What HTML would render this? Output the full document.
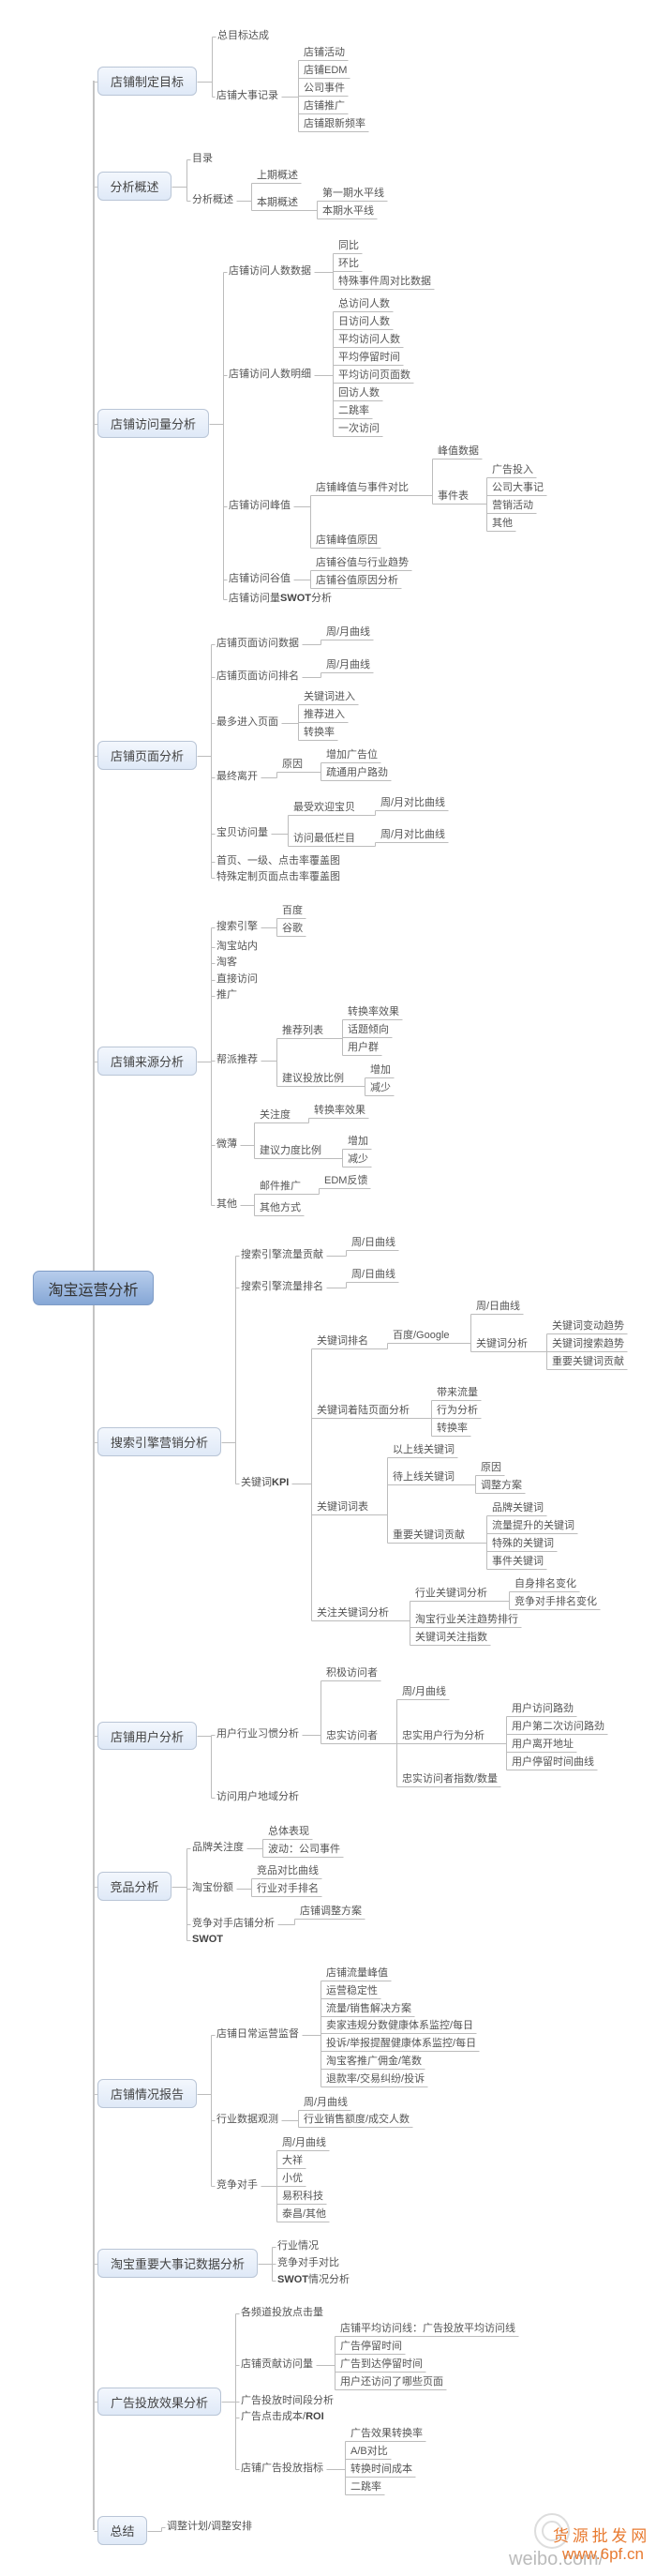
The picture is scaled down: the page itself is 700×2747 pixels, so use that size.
<!DOCTYPE html>
<html><head><meta charset="utf-8">
<style>
html,body{margin:0;padding:0;background:#fff;}
#c{position:relative;width:700px;height:2747px;overflow:hidden;font-family:"Liberation Sans","Noto Sans CJK SC",sans-serif;}
svg{position:absolute;left:0;top:0;}
.t{position:absolute;white-space:nowrap;font-size:11px;line-height:13px;color:#555;}
.t b{font-weight:bold;color:#444;}
.box{position:absolute;box-sizing:border-box;border:1px solid #b9c5d6;border-radius:6px;background:linear-gradient(#f3f7fd,#dfe9f7);color:#444;font-size:13px;display:flex;align-items:center;justify-content:center;font-family:"Liberation Sans","Noto Sans CJK SC",sans-serif;}
.root{border:1px solid #7f9cc6;background:linear-gradient(#b7cdec,#86a7d6);color:#333;font-size:16px;border-radius:7px;}
</style></head><body>
<div id="c"><svg id="s" width="700" height="2747"></svg></div>
<script>
function T(t,x,y,k){return {t:t,x:x,y:y,u:0,k:k||[]};}
function U(t,x,y,k){return {t:t,x:x,y:y,u:1,k:k||[]};}
function L(x,list){return list.map(function(a){return U(a[0],x,a[1],a[2]||[]);});}
function B(t,x1,y1,x2,y2,k,r){return {t:t,x1:x1,y1:y1,x2:x2,y2:y2,k:k,r:r};}

var boxes=[
B("店铺制定目标",104,71,210,102,[
  T("总目标达成",232,39),
  T("店铺大事记录",231,103,L(324,[["店铺活动",64],["店铺EDM",83],["公司事件",102],["店铺推广",121],["店铺跟新频率",140]]))]),
B("分析概述",104,183,183,214,[
  T("目录",205,170),
  T("分析概述",205,214,[U("上期概述",274,195),U("本期概述",274,224,L(344,[["第一期水平线",214],["本期水平线",233]]))])]),
B("店铺访问量分析",104,436,223,467,[
  T("店铺访问人数数据",244,290,L(361,[["同比",270],["环比",289],["特殊事件周对比数据",308]])),
  T("店铺访问人数明细",244,400,L(361,[["总访问人数",332],["日访问人数",351],["平均访问人数",370],["平均停留时间",389],["平均访问页面数",408],["回访人数",427],["二跳率",446],["一次访问",465]])),
  T("店铺访问峰值",244,540,[U("店铺峰值与事件对比",337,528,[U("峰值数据",467,489),U("事件表",467,537,L(525,[["广告投入",509],["公司大事记",528],["营销活动",547],["其他",566]]))]),U("店铺峰值原因",337,584)]),
  T("店铺访问谷值",244,618,L(337,[["店铺谷值与行业趋势",608],["店铺谷值原因分析",627]])),
  T("店铺访问量<b>SWOT</b>分析",244,639)]),
B("店铺页面分析",104,790,210,821,[
  T("店铺页面访问数据",231,687,[U("周/月曲线",348,682)]),
  T("店铺页面访问排名",231,722,[U("周/月曲线",348,717)]),
  T("最多进入页面",231,771,L(324,[["关键词进入",751],["推荐进入",770],["转换率",789]])),
  T("最终离开",231,829,[U("原因",301,823,L(348,[["增加广告位",813],["疏通用户路劲",832]]))]),
  T("宝贝访问量",231,889,[U("最受欢迎宝贝",313,869,[U("周/月对比曲线",406,864)]),U("访问最低栏目",313,902,[U("周/月对比曲线",406,898)])]),
  T("首页、一级、点击率覆盖图",231,919),
  T("特殊定制页面点击率覆盖图",231,936)]),
B("店铺来源分析",104,1116,210,1147,[
  T("搜索引擎",231,989,L(301,[["百度",979],["谷歌",998]])),
  T("淘宝站内",231,1010),T("淘客",231,1027),T("直接访问",231,1045),T("推广",231,1062),
  T("帮派推荐",231,1131,[U("推荐列表",301,1107,L(371,[["转换率效果",1087],["话题倾向",1106],["用户群",1125]])),U("建议投放比例",301,1158,L(395,[["增加",1149],["减少",1168]]))]),
  T("微薄",231,1221,[U("关注度",277,1197,[U("转换率效果",335,1192)]),U("建议力度比例",277,1235,L(371,[["增加",1225],["减少",1244]]))]),
  T("其他",231,1285,[U("邮件推广",277,1273,[U("EDM反馈",346,1267)]),U("其他方式",277,1296)])]),
B("搜索引擎营销分析",104,1522,236,1553,[
  T("搜索引擎流量贡献",257,1339,[U("周/日曲线",375,1333)]),
  T("搜索引擎流量排名",257,1373,[U("周/日曲线",375,1367)]),
  T("关键词<b>KPI</b>",257,1582,[
    U("关键词排名",338,1438,[U("百度/Google",419,1432,[U("周/日曲线",508,1401),U("关键词分析",508,1441,L(589,[["关键词变动趋势",1422],["关键词搜索趋势",1441],["重要关键词贡献",1460]]))])]),
    U("关键词着陆页面分析",338,1512,L(466,[["带来流量",1493],["行为分析",1512],["转换率",1531]])),
    U("关键词词表",338,1615,[U("以上线关键词",419,1554),U("待上线关键词",419,1583,L(513,[["原因",1573],["调整方案",1592]])),U("重要关键词贡献",419,1645,L(525,[["品牌关键词",1616],["流量提升的关键词",1635],["特殊的关键词",1654],["事件关键词",1673]]))]),
    U("关注关键词分析",338,1728,[U("行业关键词分析",443,1707,L(549,[["自身排名变化",1697],["竞争对手排名变化",1716]])),U("淘宝行业关注趋势排行",443,1735),U("关键词关注指数",443,1754)])])]),
B("店铺用户分析",104,1836,210,1866,[
  T("用户行业习惯分析",231,1850,[U("积极访问者",348,1792),U("忠实访问者",348,1859,[U("周/月曲线",429,1812),U("忠实用户行为分析",429,1859,L(546,[["用户访问路劲",1830],["用户第二次访问路劲",1849],["用户离开地址",1868],["用户停留时间曲线",1887]])),U("忠实访问者指数/数量",429,1905)])]),
  T("访问用户地域分析",231,1917)]),
B("竞品分析",104,1996,183,2027,[
  T("品牌关注度",205,1971,L(286,[["总体表现",1961],["波动：公司事件",1980]])),
  T("淘宝份额",205,2014,L(274,[["竞品对比曲线",2003],["行业对手排名",2022]])),
  T("竞争对手店铺分析",205,2052,[U("店铺调整方案",320,2046)]),
  T("<b>SWOT</b>",205,2069)]),
B("店铺情况报告",104,2217,210,2248,[
  T("店铺日常运营监督",231,2170,L(348,[["店铺流量峰值",2112],["运营稳定性",2131],["流量/销售解决方案",2150],["卖家违规分数健康体系监控/每日",2168],["投诉/举报提醒健康体系监控/每日",2187],["淘宝客推广佣金/笔数",2206],["退款率/交易纠纷/投诉",2225]])),
  T("行业数据观测",231,2261,L(324,[["周/月曲线",2250],["行业销售额度/成交人数",2268]])),
  T("竞争对手",231,2331,L(301,[["周/月曲线",2293],["大祥",2312],["小优",2331],["易积科技",2350],["泰昌/其他",2369]]))]),
B("淘宝重要大事记数据分析",104,2398,275,2429,[
  T("行业情况",296,2396),T("竞争对手对比",296,2414),T("<b>SWOT</b>情况分析",296,2432)]),
B("广告投放效果分析",104,2546,236,2576,[
  T("各频道投放点击量",257,2467),
  T("店铺贡献访问量",257,2522,L(363,[["店铺平均访问线：广告投放平均访问线",2491],["广告停留时间",2510],["广告到达停留时间",2529],["用户还访问了哪些页面",2548]])),
  T("广告投放时间段分析",257,2561),
  T("广告点击成本/<b>ROI</b>",257,2578),
  T("店铺广告投放指标",257,2633,L(374,[["广告效果转换率",2603],["A/B对比",2622],["转换时间成本",2641],["二跳率",2660]]))]),
B("总结",104,2683,157,2714,[T("调整计划/调整安排",178,2695)])
];

var C=document.getElementById('c'),S=document.getElementById('s'),NS="http://www.w3.org/2000/svg";
function line(x1,y1,x2,y2,w,col){var l=document.createElementNS(NS,'line');
 var o=(w||1)%2?0.5:0;
 l.setAttribute('x1',Math.round(x1)+o);l.setAttribute('y1',Math.round(y1)+o);l.setAttribute('x2',Math.round(x2)+o);l.setAttribute('y2',Math.round(y2)+o);
 l.setAttribute('stroke',col||'#bcbcbc');l.setAttribute('stroke-width',w||1);l.setAttribute('shape-rendering','crispEdges');S.appendChild(l);}
function text(n){var d=document.createElement('div');d.className='t';d.innerHTML=n.t;
 d.style.left=n.x+'px';d.style.top=(n.u?n.y-14:n.y-7)+'px';C.appendChild(d);return d.offsetWidth;}
function layout(kids,pEnd,pY){
 if(!kids.length)return;
 var bx=kids[0].x-6;
 line(pEnd,pY,bx,pY);
 var mn=pY,mx=pY;
 kids.forEach(function(k){mn=Math.min(mn,k.y);mx=Math.max(mx,k.y);});
 line(bx,mn,bx,mx);
 kids.forEach(function(k){
  var w=text(k);
  if(k.u){
   var end=k.x+w+3;
   if(k.k.length){var cb=k.k[0].x-6;line(bx,k.y,Math.max(end,cb),k.y);layout(k.k,Math.max(end,cb),k.y);}
   else line(bx,k.y,end,k.y);
  }else{
   line(bx,k.y,k.x-2,k.y);
   if(k.k.length)layout(k.k,k.x+w+3,k.y);
  }
 });
}
// trunk
line(100,86,100,2698,2,'#c4c4c4');
boxes.forEach(function(b){
 var cy=Math.round((b.y1+b.y2)/2);
 line(100,cy,b.x1,cy,1,'#c4c4c4');
 var d=document.createElement('div');d.className='box';d.textContent=b.t;
 d.style.left=b.x1+'px';d.style.top=b.y1+'px';d.style.width=(b.x2-b.x1)+'px';d.style.height=(b.y2-b.y1)+'px';C.appendChild(d);
 layout(b.k,b.x2,cy);
});
// root
var r=document.createElement('div');r.className='box root';r.textContent='淘宝运营分析';
r.style.left='35px';r.style.top='1355px';r.style.width='129px';r.style.height='37px';C.appendChild(r);
// watermark
var w=document.createElement('div');
w.innerHTML='<div style="position:absolute;left:570px;top:2680px;width:34px;height:34px;border:2px solid #ddd;border-radius:50%"></div>'+
'<div style="position:absolute;left:578px;top:2688px;width:18px;height:18px;border:2px solid #ddd;border-radius:50%"></div>'+
'<div style="position:absolute;left:590px;top:2690px;font-size:17px;color:#e87a30;font-family:\'Noto Sans CJK SC\',sans-serif;white-space:nowrap">货 源 批 发 网</div>'+
'<div style="position:absolute;left:543px;top:2718px;font-size:20px;color:#bbb;font-family:\'Liberation Sans\',sans-serif;white-space:nowrap">weibo.com/</div>'+
'<div style="position:absolute;left:600px;top:2714px;font-size:17px;color:#e87a30;font-family:\'Liberation Sans\',sans-serif;white-space:nowrap">www.6pf.cn</div>';
C.appendChild(w);
</script>
</body></html>
